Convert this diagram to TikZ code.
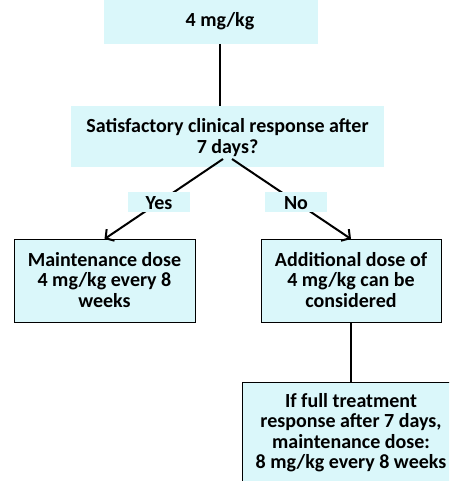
\documentclass[tikz,border=0pt]{standalone}
\usepackage{fontspec}
\setmainfont{Carlito}
\usetikzlibrary{arrows.meta}
\definecolor{boxfill}{RGB}{218,247,250}
\begin{document}
\begin{tikzpicture}[x=1pt,y=-1pt,
  fillbox/.style={fill=boxfill, draw=none, inner sep=0pt, outer sep=0pt},
  framebox/.style={fill=boxfill, draw=black, line width=1pt, inner sep=0pt, outer sep=0pt},
  txt/.style={font=\fontsize{20}{20.5}\selectfont\bfseries, align=center, inner sep=0pt},
  conn/.style={line width=2pt},
  arr/.style={conn, -{Straight Barb[length=6pt,width=14pt,line width=2pt]}}]
\useasboundingbox (0,0) rectangle (449,481);
\clip (0,0) rectangle (449,481);
% top box
\node[fillbox, minimum width=214pt, minimum height=44pt] (top) at (211,22) {};
\node[txt] (toptxt) at (220,21) {4 mg/kg};
% question box
\node[fillbox, minimum width=313pt, minimum height=61pt] (q) at (227.5,136.5) {};
\node[txt] (qtxt) at (227.5,137.5) {Satisfactory clinical response after\\7 days?};
% outcome boxes
\node[framebox, minimum width=181pt, minimum height=83pt] (left) at (104.5,280.5) {};
\node[txt] (lefttxt) at (104.5,280) {Maintenance dose\\4 mg/kg every 8\\weeks};
\node[framebox, minimum width=180pt, minimum height=83pt] (right) at (351,280.5) {};
\node[txt] (righttxt) at (351,280) {Additional dose of\\4 mg/kg can be\\considered};
\node[framebox, minimum width=218pt, minimum height=113pt] (bot) at (351,438.5) {};
\node[txt] (bottxt) at (351,432.5) {If full treatment\\response after 7 days,\\maintenance dose:\\8 mg/kg every 8 weeks};
% connectors
\coordinate (qa) at (223,159);
\coordinate (qb) at (232,159);
\draw[conn] (toptxt.south |- top.south) -- (toptxt.south |- q.north);
\draw[arr] (qa) -- (left.north);
\draw[arr] (qb) -- (right.north);
\draw[conn] (right.south) -- (bot.north);
% branch labels
\node[fillbox, minimum width=62pt, minimum height=20pt] (yes) at (159,202) {};
\node[txt] (yestxt) at (159,203) {Yes};
\node[fillbox, minimum width=62pt, minimum height=20pt] (no) at (296,202) {};
\node[txt] (notxt) at (296,203) {No};
\end{tikzpicture}
\end{document}
